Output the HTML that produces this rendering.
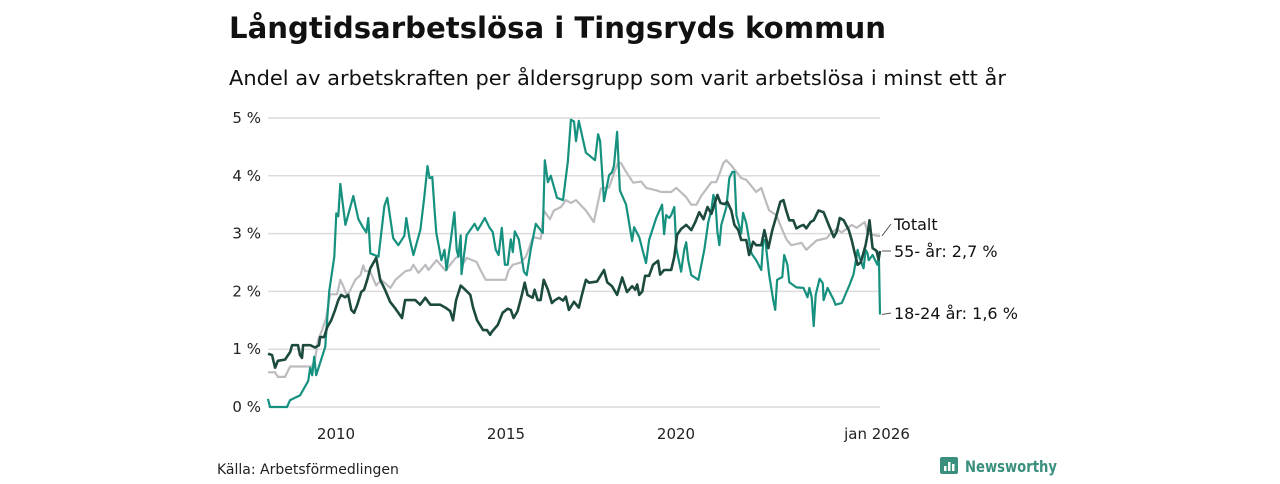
<!DOCTYPE html>
<html><head><meta charset="utf-8"><style>
body{margin:0;background:#fff;width:1280px;height:480px;overflow:hidden;font-family:"DejaVu Sans",sans-serif}
</style></head><body>
<svg width="1280" height="480" id="svg" font-family="DejaVu Sans, Liberation Sans, sans-serif">
<text x="229" y="38" font-size="29" font-weight="bold" fill="#111" textLength="657" lengthAdjust="spacingAndGlyphs">Långtidsarbetslösa i Tingsryds kommun</text>
<text x="229" y="85" font-size="20" fill="#111" textLength="777" lengthAdjust="spacingAndGlyphs">Andel av arbetskraften per åldersgrupp som varit arbetslösa i minst ett år</text>
<g id="grid"></g><g id="lines"></g><g id="labels"></g>
<text x="217" y="474" font-size="14" fill="#222">Källa: Arbetsförmedlingen</text>
<g>
<rect x="940" y="457" width="18" height="17" rx="2" fill="#3a8f7e"/>
<rect x="944" y="466" width="2.5" height="5" fill="#fff"/><rect x="948" y="462" width="2.5" height="9" fill="#fff"/><rect x="952" y="464" width="2.5" height="7" fill="#fff"/>
<text x="965" y="472" font-size="16" font-weight="bold" fill="#3a8f7e" textLength="92" lengthAdjust="spacingAndGlyphs">Newsworthy</text></g>
</svg>
<script>
const yTicks=[0,1,2,3,4,5];
const yTickLabels=["0 %","1 %","2 %","3 %","4 %","5 %"];
const xTicks=[24,84,144,216];
const xTickLabels=["2010","2015","2020","jan 2026"];
const teal=[[0,0.14],[0.7,0],[6.7,0],[7.8,0.12],[11.3,0.2],[14.2,0.45],[14.9,0.68],[15.6,0.55],[16.3,0.87],[17,0.55],[19.1,0.87],[20.2,1.04],[21.6,2.0],[23.4,2.6],[24.1,3.35],[24.8,3.3],[25.5,3.86],[27.3,3.15],[30.1,3.65],[31.9,3.25],[33.6,3.1],[34.7,3.02],[35.4,3.27],[36.1,2.66],[39,2.6],[41.1,3.48],[42.1,3.62],[44.2,2.92],[46,2.8],[48.1,2.96],[48.8,3.27],[49.9,2.93],[51.3,2.63],[53.8,3.07],[55.2,3.65],[56.3,4.17],[57,3.96],[58,3.98],[58.8,3.4],[59.4,3.01],[61.2,2.54],[62.3,2.72],[63,2.37],[64.4,2.85],[65.8,3.37],[66.6,2.72],[67.2,2.6],[68,2.97],[68.3,2.3],[70.1,2.97],[72.9,3.17],[74,3.06],[75.1,3.15],[76.5,3.27],[78.2,3.1],[79.3,3.03],[80.4,2.72],[81.4,2.63],[82.5,3.1],[83.6,2.46],[84.6,2.46],[85.7,2.9],[86.4,2.68],[87.1,3.04],[88.5,2.9],[90.3,2.34],[91.3,2.28],[92.7,2.72],[94.5,3.17],[97,3.01],[97.7,4.27],[98.8,3.89],[99.8,4.0],[102,3.62],[104.1,3.58],[105.8,4.24],[106.9,4.97],[108,4.94],[108.7,4.6],[109.7,4.95],[112.2,4.4],[115.4,4.27],[116.5,4.72],[117.2,4.6],[118.6,3.56],[120.4,4.01],[121.4,4.06],[122.1,4.18],[123.2,4.76],[124.2,3.75],[126.4,3.5],[128.5,2.87],[129.2,3.11],[131,2.94],[133.4,2.49],[134.5,2.89],[137,3.27],[139.1,3.5],[139.8,2.99],[140.5,3.32],[141.6,3.27],[142.3,3.32],[143.4,3.46],[144.1,2.75],[145.8,2.34],[146.9,2.72],[147.6,2.85],[148.3,2.54],[149.4,2.28],[151.9,2.2],[154,2.72],[155.4,3.2],[156.5,3.41],[157.2,3.67],[157.9,3.55],[158.6,3.03],[159.3,2.8],[160,3.15],[161.8,3.46],[162.8,3.96],[163.9,4.07],[164.6,4.07],[165.3,3.32],[167,3.0],[167.7,3.36],[168.8,3.18],[170.6,2.66],[172.3,2.54],[174.1,2.37],[174.8,2.89],[175.5,2.89],[176.9,2.28],[178.3,1.85],[179,1.68],[179.7,2.2],[181.5,2.25],[182.2,2.63],[183.3,2.46],[184,2.16],[186.5,2.07],[189,2.06],[190.4,1.9],[191.1,2.06],[191.9,1.9],[192.6,1.4],[193.3,1.94],[194.7,2.22],[195.8,2.14],[196.1,1.85],[197.5,2.06],[199.7,1.85],[200.3,1.77],[202.5,1.8],[205.3,2.12],[206.7,2.3],[208.1,2.72],[208.8,2.58],[210.2,2.4],[210.9,2.72],[211.6,2.66],[212,2.54],[213.4,2.63],[215.1,2.46],[215.6,2.6],[216,1.6]];
const gray=[[0,0.6],[2.5,0.6],[3.5,0.52],[6,0.52],[7.8,0.7],[15.5,0.7],[16.6,0.82],[17.7,1.16],[19.1,1.33],[20.5,1.54],[21.9,1.95],[24.4,1.95],[25.5,2.2],[26.5,2.1],[27.9,1.92],[29,2.02],[30.8,2.2],[32.6,2.28],[33.6,2.45],[34.3,2.35],[36,2.35],[38.2,2.1],[39.9,2.2],[43.2,2.06],[45,2.2],[48.5,2.35],[50.3,2.37],[51.3,2.46],[53.1,2.32],[55.6,2.46],[56.6,2.37],[59.5,2.54],[62.7,2.36],[66.2,2.58],[68,2.63],[68.7,2.46],[70.1,2.58],[73.6,2.51],[75,2.37],[76.8,2.2],[83.9,2.2],[85,2.37],[86.4,2.46],[89.2,2.5],[91,2.6],[92,2.73],[93.5,2.94],[96.3,2.91],[97.3,3.4],[99.5,3.25],[100.9,3.4],[103.4,3.46],[105.1,3.58],[106.9,3.53],[108.7,3.58],[112.2,3.4],[115,3.2],[116.5,3.55],[117.5,3.78],[120.4,3.8],[122.5,4.1],[123.5,4.22],[124.6,4.22],[126.4,4.07],[128.9,3.88],[131.7,3.9],[133.5,3.79],[137,3.75],[138.8,3.72],[142.3,3.72],[144.1,3.79],[147.6,3.63],[149.4,3.5],[151.2,3.5],[152.9,3.65],[156.5,3.89],[158.2,3.89],[159.3,4.03],[160.7,4.22],[161.8,4.27],[163.5,4.18],[167,3.96],[168.8,3.93],[172.3,3.72],[174.1,3.79],[175.9,3.53],[176.9,3.4],[179.4,3.32],[181.2,3.1],[183,2.9],[184.7,2.8],[188.3,2.84],[190,2.72],[193.6,2.88],[197.2,2.92],[198.9,3.02],[200.7,3.08],[202.5,3.02],[206,3.15],[207.8,3.1],[210.6,3.2],[211.7,3.0],[215.2,2.96],[216,2.96]];
const dark=[[0,0.92],[1.4,0.9],[2.5,0.68],[3.5,0.8],[6,0.82],[7.8,0.95],[8.5,1.07],[10.6,1.07],[11.3,0.9],[12,0.85],[12.4,1.07],[14.9,1.07],[16.6,1.03],[18,1.07],[18.4,1.21],[19.8,1.21],[20.9,1.38],[22.3,1.5],[23.7,1.68],[24.8,1.85],[25.8,1.94],[27.2,1.9],[28.3,1.94],[29.4,1.68],[30.4,1.63],[31.5,1.77],[32.9,1.99],[33.9,2.03],[35,2.2],[36.1,2.4],[38.2,2.58],[39.6,2.2],[41.3,2.03],[43.1,1.82],[45,1.7],[47.3,1.54],[48.4,1.85],[50.2,1.85],[52,1.85],[53.7,1.77],[55.5,1.89],[57.3,1.77],[59,1.77],[60.8,1.77],[62.6,1.72],[64.3,1.66],[65.3,1.5],[66.4,1.85],[68,2.1],[69.6,2.03],[71.4,1.94],[72.4,1.72],[73.8,1.5],[74.8,1.42],[75.9,1.33],[77.3,1.33],[78.4,1.25],[79,1.3],[81.1,1.42],[82.8,1.63],[84.6,1.7],[85.7,1.68],[86.7,1.54],[88.1,1.66],[89.5,1.92],[90.6,2.15],[91.6,1.94],[93.4,1.89],[94.1,2.03],[95.2,1.85],[96.2,1.85],[97.3,2.2],[98.8,2.03],[100.2,1.8],[101.3,1.85],[102.7,1.89],[104.1,1.84],[105.1,1.91],[106.2,1.68],[108,1.82],[109.7,1.72],[110.8,1.94],[112.2,2.2],[113.3,2.15],[116.1,2.17],[118.6,2.37],[119.7,2.16],[121.4,2.09],[123.2,1.94],[125,2.24],[126.7,1.99],[128.5,2.09],[129.6,2.03],[130.3,2.12],[131,1.94],[132.1,2.0],[133.1,2.27],[134.5,2.27],[135.9,2.46],[137.7,2.53],[138.4,2.29],[139.8,2.37],[142.3,2.37],[143.4,2.6],[144.4,2.98],[145.8,3.08],[147.6,3.15],[149.4,3.06],[150.8,3.2],[152.2,3.37],[153.7,3.25],[155.1,3.46],[156.5,3.34],[157.5,3.5],[158.6,3.67],[159.7,3.53],[161.1,3.51],[162.1,3.55],[163.5,3.4],[164.6,3.15],[166,3.06],[167,2.89],[168.8,2.89],[169.8,2.63],[171.2,2.86],[172.3,2.8],[174.1,2.8],[175.2,3.06],[176.6,2.75],[178,3.06],[179.4,3.3],[180.8,3.55],[181.9,3.58],[182.9,3.4],[184,3.23],[185.4,3.23],[186.5,3.09],[187.9,3.13],[189,3.15],[190,3.09],[191.5,3.2],[192.6,3.23],[194.3,3.4],[196.1,3.37],[197.9,3.15],[199.7,2.94],[200.7,3.03],[201.8,3.27],[203.2,3.23],[205,3.06],[206,2.89],[207,2.68],[208.1,2.46],[209.2,2.5],[210.9,2.8],[211.6,2.98],[212.3,3.23],[213.4,2.75],[214.8,2.7],[215.5,2.55],[216,2.7]];
const endLabels=["Totalt","55- år: 2,7 %","18-24 år: 1,6 %"];

const NS="http://www.w3.org/2000/svg";
const X0=268,X1=880,Y0=407,YPER=57.8;
function xs(m){return X0+(X1-X0)*m/216;}
function ys(v){return Y0-v*YPER;}
function mk(tag,attrs,parent){const e=document.createElementNS(NS,tag);for(const k in attrs)e.setAttribute(k,attrs[k]);parent.appendChild(e);return e;}
const grid=document.getElementById('grid'),lines=document.getElementById('lines'),labels=document.getElementById('labels');
yTicks.forEach((t,i)=>{
  const l=mk('line',{x1:X0,x2:X1,y1:ys(t),y2:ys(t),stroke:'#dcdcdc','stroke-width':1.5},grid);
  
  
  const tx=mk('text',{x:261,y:ys(t)+5,'font-size':15,'text-anchor':'end',fill:'#222'},grid);
  tx.textContent=yTickLabels[i];
  
  
});
xTicks.forEach((t,i)=>{
  const tx=mk('text',{x:xs(t)-(i==3?3:0),y:439,'font-size':15,'text-anchor':'middle',fill:'#222'},grid);
  tx.textContent=xTickLabels[i];
  
  
});
function draw(data,color,w,name){
  const p=mk('path',{d:data.map((d,i)=>(i?'L':'M')+xs(d[0]).toFixed(1)+','+ys(d[1]).toFixed(1)).join(''),fill:'none',stroke:color,'stroke-width':w,'stroke-linejoin':'round'},lines);
  
  
}
draw(gray,'#bcbcc0',2.2,'line-totalt');
draw(teal,'#16917f',2.2,'line-18-24');
draw(dark,'#1d4a3e',2.6,'line-55-plus');
const ends=[gray[gray.length-1][1],dark[dark.length-1][1],teal[teal.length-1][1]];
const ly=[229,256,318];
ends.forEach((v,i)=>{
  const c=mk('line',{x1:X1+2,y1:ys(v),x2:891,y2:ly[i]-5,stroke:'#555','stroke-width':1},labels);
  
  
  const t=mk('text',{x:894,y:ly[i]+1,'font-size':16,fill:'#111'},labels);
  t.textContent=endLabels[i];
  
  
});
</script>
</body></html>
